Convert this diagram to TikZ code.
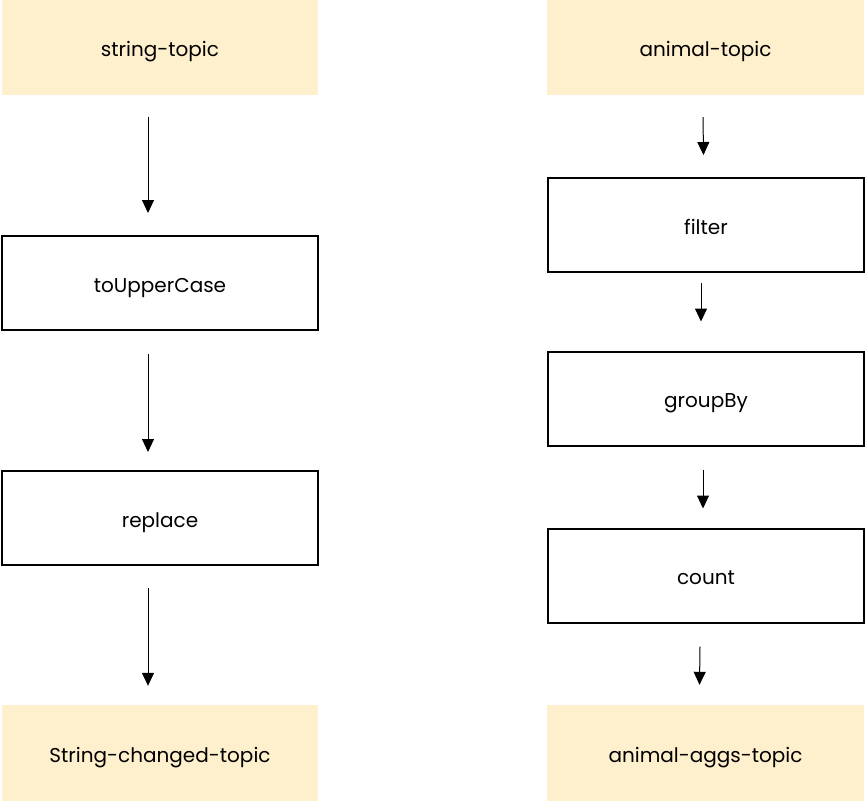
\documentclass[tikz,border=0pt]{standalone}
\usepackage{fontspec}
\setmainfont{Poppins}
\usetikzlibrary{arrows.meta}
\definecolor{topicfill}{RGB}{255,240,205}
\tikzset{
  x=1pt, y=-1pt,
  lbl/.style={font=\fontsize{20}{22}\selectfont, text height=18pt, text depth=0pt, inner sep=0pt},
  topic/.style={lbl, fill=topicfill, draw=none, minimum width=316pt, minimum height=95pt},
  opbox/.style={lbl, draw=black, line width=2pt, fill=white, minimum width=316pt, minimum height=94pt},
  arr/.style={draw=black, line width=1pt, -{Triangle[width=12pt,length=13pt]}}
}
\begin{document}
\begin{tikzpicture}
\useasboundingbox (0,0) rectangle (866,801);
% left column
\node[topic] (st) at (160,47.5) {string-topic};
\node[opbox] (up) at (160,283) {toUpperCase};
\node[opbox] (rp) at (160,518) {replace};
\node[topic, minimum height=96pt] (sc) at (160,753) {String-changed-topic};
% right column
\node[topic, minimum width=317pt] (at) at (705.5,47.5) {animal-topic};
\node[opbox] (fi) at (706,225) {filter};
\node[opbox] (gb) at (706,398.5) {groupBy};
\node[opbox] (co) at (706,575.5) {count};
\node[topic, minimum width=317pt, minimum height=96pt] (ag) at (705.5,753) {animal-aggs-topic};
% left arrows
\draw[arr] ([xshift=-12pt,yshift=-22pt]st.south) -- ([xshift=-12pt,yshift=22pt]up.north);
\draw[arr] ([xshift=-12pt,yshift=-23pt]up.south) -- ([xshift=-12pt,yshift=18pt]rp.north);
\draw[arr] ([xshift=-12pt,yshift=-22pt]rp.south) -- ([xshift=-12pt,yshift=19pt]sc.north);
% right arrows
\draw[arr] ([xshift=-2.5pt,yshift=-22pt]at.south) -- ([xshift=-2.5pt,yshift=22pt]fi.north);
\draw[arr] ([xshift=-5pt,yshift=-10pt]fi.south) -- ([xshift=-5pt,yshift=29pt]gb.north);
\draw[arr] ([xshift=-3pt,yshift=-23pt]gb.south) -- ([xshift=-3pt,yshift=19pt]co.north);
\draw[arr] ([xshift=-6pt,yshift=-23pt]co.south) -- ([xshift=-6pt,yshift=20pt]ag.north);
\end{tikzpicture}
\end{document}
